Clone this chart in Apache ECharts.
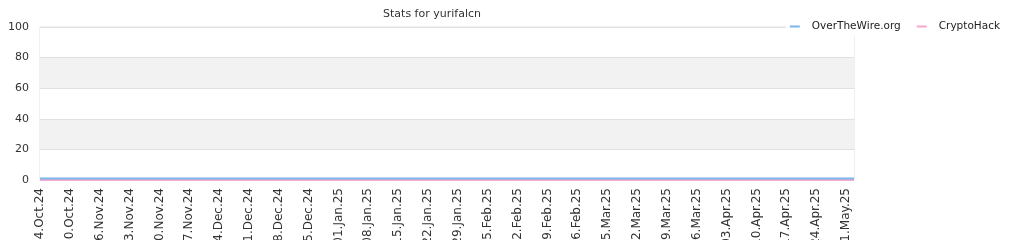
<!DOCTYPE html>
<html>
<head>
<meta charset="utf-8">
<script src="https://cdn.jsdelivr.net/npm/echarts@6/dist/echarts.min.js"></script>
<style>
  html, body { margin: 0; padding: 0; background: #fff; }
  #chart { width: 1024px; height: 240px; }
</style>
</head>
<body>
<div id="chart"></div>
<script>
// Weekly tick labels along the time axis
const tickLabels = [
  '24.Oct.24', '30.Oct.24', '06.Nov.24', '13.Nov.24', '20.Nov.24', '27.Nov.24',
  '04.Dec.24', '11.Dec.24', '18.Dec.24', '25.Dec.24', '01.Jan.25', '08.Jan.25',
  '15.Jan.25', '22.Jan.25', '29.Jan.25', '05.Feb.25', '12.Feb.25', '19.Feb.25',
  '26.Feb.25', '05.Mar.25', '12.Mar.25', '19.Mar.25', '26.Mar.25', '03.Apr.25',
  '10.Apr.25', '17.Apr.25', '24.Apr.25', '01.May.25'
];

// Sample positions in weeks since the first tick (last sample two days after 01.May)
const samplePos = [
  0, 1, 2, 3, 4, 5, 6, 7, 8, 9, 10, 11, 12, 13, 14, 15, 16, 17, 18, 19,
  20, 21, 22, 23, 24, 25, 26, 27, 27.27
];

// Completion percentage per platform
const overTheWire = [
  1, 1, 1, 1, 1, 1, 1, 1, 1, 1, 1, 1, 1, 1, 1, 1, 1, 1, 1, 1,
  1, 1, 1, 1, 1, 1, 1, 1, 1
];
const cryptoHack = [
  0, 0, 0, 0, 0, 0, 0, 0, 0, 0, 0, 0, 0, 0, 0, 0, 0, 0, 0, 0,
  0, 0, 0, 0, 0, 0, 0, 0, 0
];

const seriesNames = ['OverTheWire.org', 'CryptoHack'];
const seriesColors = ['#7cb5ec', '#f4a9cc'];

const toPoints = vals => vals.map((v, i) => [samplePos[i], v]);

const chart = echarts.init(document.getElementById('chart'), null, { renderer: 'canvas' });
const FONT = 'DejaVu Sans';

chart.setOption({
  animation: false,
  backgroundColor: '#fff',
  textStyle: { fontFamily: FONT },
  title: {
    text: 'Stats for yurifalcn',
    left: 427,
    textAlign: 'center',
    top: 4,
    textStyle: { fontFamily: FONT, fontSize: 11, fontWeight: 'normal', color: '#333' }
  },
  legend: {
    right: 20,
    top: 19,
    backgroundColor: '#fff',
    padding: [2, 4, 4, 4],
    itemGap: 16,
    itemWidth: 10,
    itemHeight: 2,
    icon: 'rect',
    textStyle: { fontFamily: FONT, fontSize: 10.5, color: '#222', padding: [0, 0, 0, 7] },
    data: seriesNames
  },
  grid: {
    left: 40,
    right: 170,
    top: 27,
    bottom: 60,
    show: true,
    borderColor: '#e0e0e0',
    borderWidth: 1,
    containLabel: false,
    outerBoundsMode: 'none'
  },
  xAxis: {
    type: 'value',
    min: 0,
    max: samplePos[samplePos.length - 1],
    interval: 1,
    axisLine: { show: false },
    axisTick: { show: false },
    splitLine: { show: false },
    axisLabel: {
      rotate: 90,
      margin: 8,
      fontFamily: FONT,
      fontSize: 12,
      color: '#333',
      showMaxLabel: false,
      formatter: v => tickLabels[Math.round(v)] || ''
    }
  },
  yAxis: {
    type: 'value',
    min: 0,
    max: 100,
    interval: 20,
    name: 'Percentage',
    nameLocation: 'middle',
    nameGap: 31,
    nameTextStyle: { fontFamily: FONT, fontSize: 11, color: '#333' },
    axisLine: { show: false },
    axisTick: { show: false },
    axisLabel: { fontFamily: FONT, fontSize: 11, color: '#333', margin: 11 },
    splitLine: { show: true, lineStyle: { color: '#e0e0e0', width: 1 } },
    splitArea: { show: true, areaStyle: { color: ['#ffffff', '#f2f2f2'] } }
  },
  series: [
    {
      name: seriesNames[1],
      type: 'line',
      data: toPoints(cryptoHack),
      showSymbol: false,
      color: seriesColors[1],
      lineStyle: { width: 2, color: seriesColors[1] },
      z: 2
    },
    {
      name: seriesNames[0],
      type: 'line',
      data: toPoints(overTheWire),
      showSymbol: false,
      color: seriesColors[0],
      lineStyle: { width: 2, color: seriesColors[0] },
      z: 3
    }
  ]
});
</script>
</body>
</html>
